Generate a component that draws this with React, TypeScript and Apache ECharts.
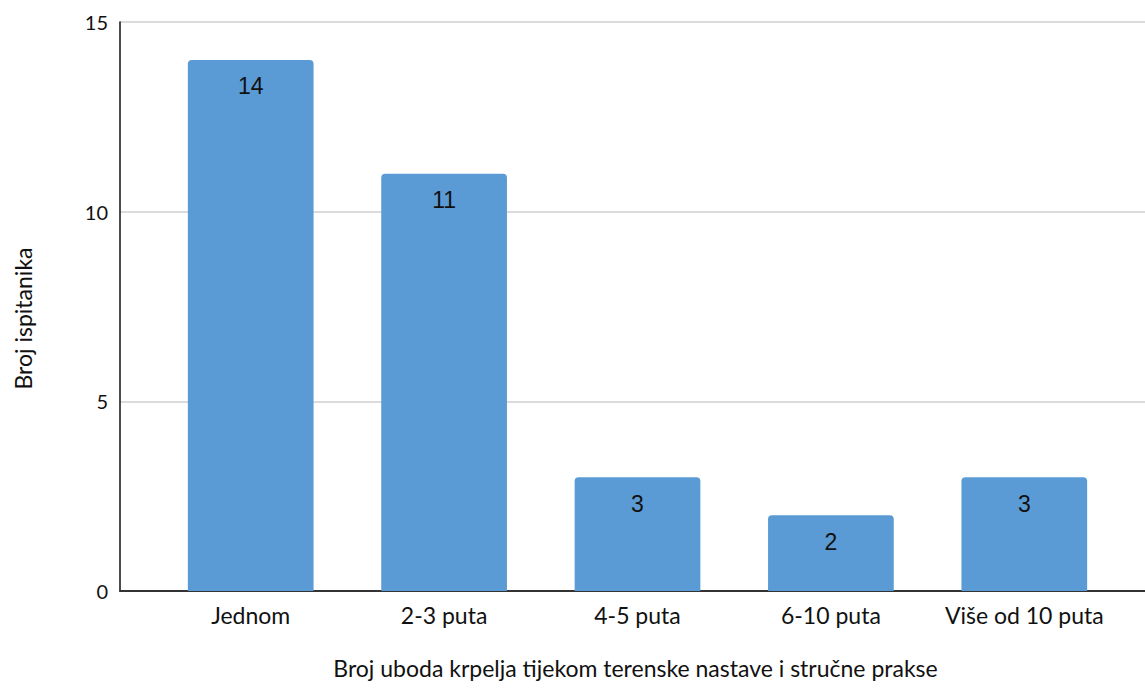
import React, { useEffect, useRef } from "react";
import * as echarts from "echarts";

// Tick-bite counts per respondent group
const categories = ["Jednom", "2-3 puta", "4-5 puta", "6-10 puta", "Više od 10 puta"];
const respondents = [14, 11, 3, 2, 3];
const yTicks = [0, 5, 10, 15];

const yAxisName = "Broj ispitanika";
const xAxisName = "Broj uboda krpelja tijekom terenske nastave i stručne prakse";

const BAR_COLOR = "#5B9BD5";
const LABEL_FONT = "Lato, 'Noto Sans', sans-serif";

export default function App() {
  const ref = useRef<HTMLDivElement | null>(null);

  useEffect(() => {
    if (!ref.current) return;
    const chart = echarts.init(ref.current, null, { renderer: "svg" });
    const top = 22;
    const bottom = 97;
    const yMax = yTicks[yTicks.length - 1];
    const step = yTicks[1] - yTicks[0];

    chart.setOption({
      animation: false,
      backgroundColor: "#ffffff",
      grid: [
        // frame: y axis line, gridlines and the baseline across the full width
        { left: 120, right: 0, top, bottom },
        // bars and category labels
        { left: 154, right: 24, top, bottom },
      ],
      xAxis: [
        {
          gridIndex: 0,
          type: "value",
          min: 0,
          max: 1,
          axisLine: { show: true, onZero: false, lineStyle: { color: "#333333", width: 2 } },
          axisTick: { show: false },
          axisLabel: { show: false },
          splitLine: { show: false },
          name: xAxisName,
          nameLocation: "middle",
          nameGap: 65,
          nameTextStyle: {
            fontFamily: LABEL_FONT,
            fontSize: 23,
            color: "#111111",
            padding: [0, 0, 0, 6],
          },
        },
        {
          gridIndex: 1,
          type: "category",
          data: categories,
          axisLine: { show: false },
          axisTick: { show: false },
          axisLabel: {
            interval: 0,
            margin: 12,
            fontFamily: LABEL_FONT,
            fontSize: 23,
            color: "#111111",
          },
        },
      ],
      yAxis: [
        {
          gridIndex: 0,
          type: "value",
          min: 0,
          max: yMax,
          interval: step,
          axisLine: { show: true, lineStyle: { color: "#111111", width: 1.5 } },
          axisTick: { show: false },
          axisLabel: {
            margin: 12,
            fontFamily: LABEL_FONT,
            fontSize: 20,
            color: "#111111",
          },
          splitLine: { show: true, lineStyle: { color: "#cfcfcf", width: 1.5 } },
          name: yAxisName,
          nameLocation: "middle",
          nameGap: 86,
          nameRotate: 90,
          nameTextStyle: {
            fontFamily: LABEL_FONT,
            fontSize: 23,
            color: "#111111",
            padding: [0, 24, 0, 0],
          },
        },
        {
          gridIndex: 1,
          type: "value",
          min: 0,
          max: yMax,
          interval: step,
          show: false,
          splitLine: { show: false },
        },
      ],
      series: [
        {
          type: "bar",
          xAxisIndex: 1,
          yAxisIndex: 1,
          data: respondents,
          barWidth: "65%",
          itemStyle: { color: BAR_COLOR, borderRadius: [4, 4, 0, 0] },
          label: {
            show: true,
            position: "insideTop",
            distance: 15,
            fontFamily: "'Liberation Sans', Arial, sans-serif",
            fontSize: 23,
            color: "#111111",
          },
        },
      ],
    });

    return () => chart.dispose();
  }, []);

  return (
    <div
      ref={ref}
      style={{ position: "absolute", left: 0, top: 0, width: 1145, height: 688 }}
    />
  );
}
